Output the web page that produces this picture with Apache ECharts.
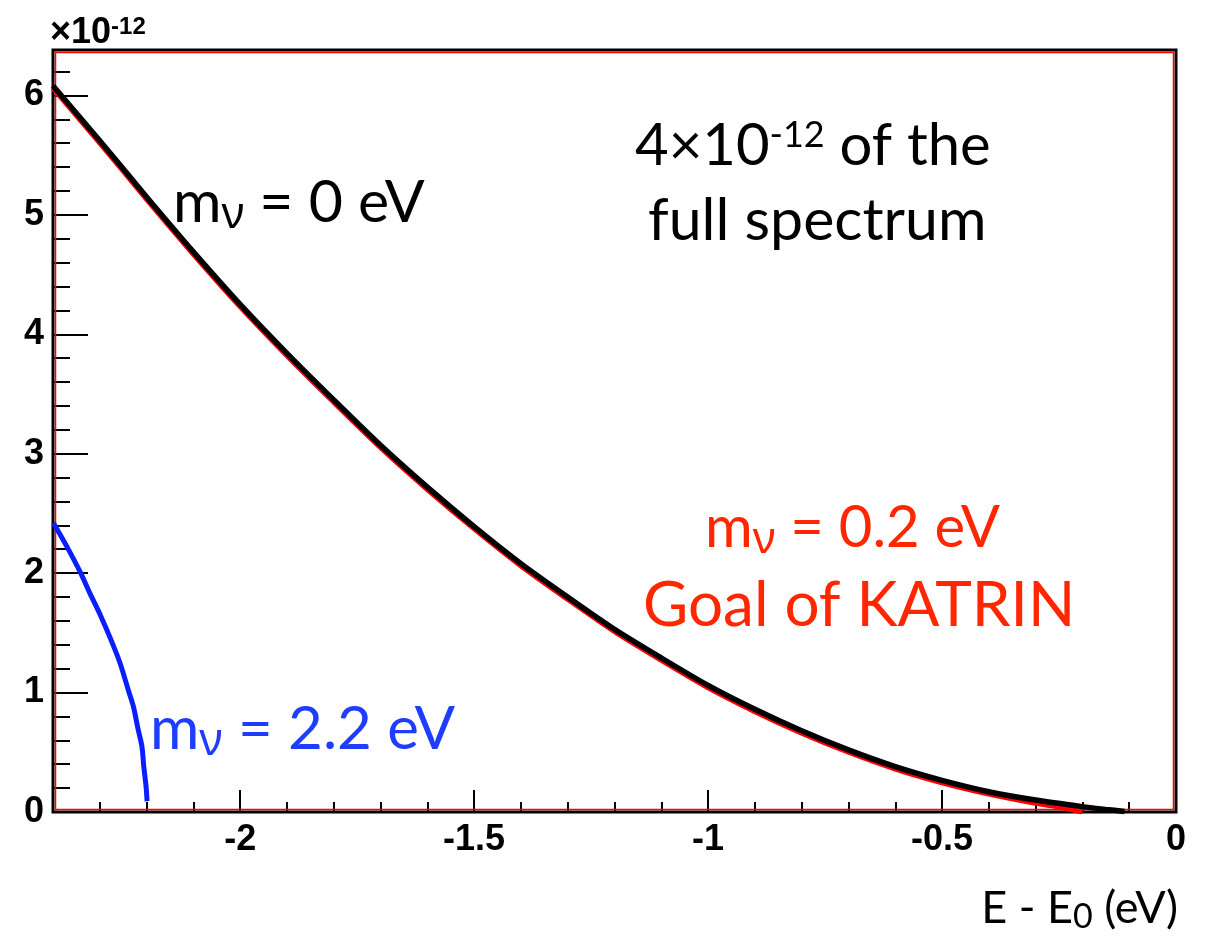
<!DOCTYPE html>
<html><head><meta charset="utf-8">
<script src="https://cdn.jsdelivr.net/npm/echarts@6/dist/echarts.min.js"></script>
<style>html,body{margin:0;padding:0;background:#fff}#c{width:1211px;height:937px}</style>
</head><body><div id="c"></div>
<script>
// ---- data (units: eV, and 1e-12) ----
const xTickLabels = ['-2.4','-2.3','-2.2','-2.1','-2','-1.9','-1.8','-1.7','-1.6','-1.5','-1.4','-1.3','-1.2','-1.1','-1','-0.9','-0.8','-0.7','-0.6','-0.5','-0.4','-0.3','-0.2','-0.1','0'];
const xMajorLabels = ['-2','-1.5','-1','-0.5','0'];
const yMajorLabels = [0,1,2,3,4,5,6];

const energyM0 = [-2.4,-2.3,-2.2,-2.1,-2.0,-1.9,-1.8,-1.7,-1.6,-1.5,-1.4,-1.3,-1.2,-1.1,-1.0,-0.9,-0.8,-0.7,-0.6,-0.5,-0.4,-0.3,-0.2,-0.15,-0.11];
const valueM0  = [6.08,5.62,5.15,4.69,4.25,3.84,3.45,3.07,2.72,2.39,2.08,1.80,1.53,1.29,1.06,0.86,0.68,0.52,0.38,0.265,0.17,0.10,0.045,0.022,0.005];

const energyM02 = [-2.4,-2.3,-2.2,-2.1,-2.0,-1.9,-1.8,-1.7,-1.6,-1.5,-1.4,-1.3,-1.2,-1.1,-1.0,-0.9,-0.8,-0.7,-0.6,-0.5,-0.4,-0.3,-0.25,-0.2];
const valueM02  = [6.06,5.60,5.13,4.67,4.23,3.82,3.43,3.05,2.70,2.37,2.06,1.78,1.51,1.27,1.04,0.84,0.66,0.50,0.36,0.245,0.15,0.072,0.04,0.0];

const energyM22 = [-2.399,-2.370,-2.342,-2.321,-2.299,-2.278,-2.257,-2.239,-2.228,-2.218,-2.210,-2.206,-2.201,-2.199];
const valueM22  = [2.42,2.22,2.01,1.83,1.65,1.46,1.25,1.02,0.88,0.69,0.55,0.38,0.21,0.09];

const xMin = -2.4, xMax = 0, yMin = 0, yMax = 6.38;

// ---- styles ----
const RED = '#ff2600', BLUE = '#1f3dff', BLACK = '#000';
const tickFont = {fontFamily: 'Liberation Sans', fontWeight: 'bold', fontSize: 36, color: '#000'};
const annFont = 'Lato';
const gridBox = {left: 53, right: 35, top: 50, bottom: 125};

function zip(a, b) { return a.map((v, i) => [v, b[i]]); }

function mnuText(rest, color, size) {
  const fs = Math.round(size * 0.75);
  const subLine = Math.round(0.887 * size + 7 + 0.112 * fs);
  return {
    text: '{m|m}{s|ν}{r|' + rest + '}',
    rich: {
      m: {fontFamily: annFont, fontSize: size, lineHeight: size, verticalAlign: 'top', fill: color},
      s: {fontFamily: 'Noto Sans', fontSize: fs, lineHeight: subLine, verticalAlign: 'bottom', fill: color},
      r: {fontFamily: annFont, fontSize: size, lineHeight: size, verticalAlign: 'top', fill: color}
    }
  };
}

const chart = echarts.init(document.getElementById('c'), null, {renderer: 'canvas'});

const option = {
  animation: false,
  backgroundColor: '#fff',
  grid: [
    Object.assign({show: true, borderColor: '#000', borderWidth: 3, backgroundColor: 'transparent'}, gridBox),
    Object.assign({show: false}, gridBox)
  ],
  xAxis: [
    {gridIndex: 0, type: 'value', min: xMin, max: xMax, interval: 0.1, position: 'bottom',
     axisLine: {show: false, onZero: false}, splitLine: {show: false},
     axisTick: {show: true, inside: true, length: 10, lineStyle: {color: '#000', width: 2}},
     axisLabel: {show: false}},
    {gridIndex: 1, type: 'category', data: xTickLabels, boundaryGap: false, position: 'bottom',
     axisLine: {show: false, onZero: false}, splitLine: {show: false},
     axisTick: {show: true, inside: true, length: 22, lineStyle: {color: '#000', width: 2},
       interval: (i, v) => xMajorLabels.indexOf(v) >= 0},
     axisLabel: Object.assign({show: true, margin: 10,
       interval: (i, v) => xMajorLabels.indexOf(v) >= 0}, tickFont)}
  ],
  yAxis: [
    {gridIndex: 0, type: 'value', min: yMin, max: yMax, interval: 0.2, position: 'left',
     axisLine: {show: false, onZero: false}, splitLine: {show: false},
     axisTick: {show: true, inside: true, length: 17, lineStyle: {color: '#000', width: 2}},
     axisLabel: {show: false}},
    {gridIndex: 1, type: 'value', min: yMin, max: yMax, interval: 1, position: 'left',
     axisLine: {show: false, onZero: false}, splitLine: {show: false},
     axisTick: {show: true, inside: true, length: 35, lineStyle: {color: '#000', width: 2}},
     axisLabel: Object.assign({show: true, margin: 9, showMaxLabel: false,
       formatter: v => (yMajorLabels.indexOf(v) >= 0 ? String(v) : '')}, tickFont)}
  ],
  series: [
    {name: 'm=0.2', type: 'line', xAxisIndex: 0, yAxisIndex: 0, data: zip(energyM02, valueM02),
     showSymbol: false, smooth: 0.25, lineStyle: {color: '#ff0000', width: 5}, z: 2},
    {name: 'm=0', type: 'line', xAxisIndex: 0, yAxisIndex: 0, data: zip(energyM0, valueM0),
     showSymbol: false, smooth: 0.25, lineStyle: {color: '#000', width: 5.5}, z: 3},
    {name: 'm=2.2', type: 'line', xAxisIndex: 0, yAxisIndex: 0, data: zip(energyM22, valueM22),
     showSymbol: false, smooth: 0.3, lineStyle: {color: '#0a1eff', width: 5}, z: 3}
  ]
};
chart.setOption(option);

// red inner frame following the grid rectangle
const p0 = chart.convertToPixel({xAxisIndex: 0, yAxisIndex: 0}, [xMin, yMax]);
const p1 = chart.convertToPixel({xAxisIndex: 0, yAxisIndex: 0}, [xMax, yMin]);

const m0 = mnuText(' = 0 eV', BLACK, 59);
const m02 = mnuText(' = 0.2 eV', RED, 58);
const m22 = mnuText(' = 2.2 eV', BLUE, 60);

chart.setOption({
  graphic: [
    {type: 'rect', silent: true, z: 1,
     shape: {x: p0[0] + 2.5, y: p0[1] + 2.5, width: p1[0] - p0[0] - 5, height: p1[1] - p0[1] - 5},
     style: {fill: 'none', stroke: '#ff0000', lineWidth: 1.5}},
    {type: 'text', x: 50, y: 15, z: 10, style: {
      text: '{a|×10}{b|-12}', verticalAlign: 'top',
      rich: {a: {fontFamily: 'Liberation Sans', fontWeight: 'bold', fontSize: 36, lineHeight: 38, verticalAlign: 'top', fill: '#000'},
             b: {fontFamily: 'Liberation Sans', fontWeight: 'bold', fontSize: 24, lineHeight: 22, verticalAlign: 'top', fill: '#000'}}}},
    {type: 'text', x: 635, y: 117, z: 10, style: {
      text: '{a|4×10}{b|-12}{a| of the}', verticalAlign: 'top',
      rich: {a: {fontFamily: annFont, fontSize: 58, lineHeight: 58, verticalAlign: 'top', fill: '#000'},
             b: {fontFamily: annFont, fontSize: 36, lineHeight: 40, verticalAlign: 'top', fill: '#000'}}}},
    {type: 'text', x: 648, y: 192, z: 10, style: {
      text: 'full spectrum', verticalAlign: 'top', fontFamily: annFont, fontSize: 59, lineHeight: 58, fill: '#000'}},
    {type: 'text', x: 173, y: 173, z: 10, style: Object.assign({verticalAlign: 'top'}, m0)},
    {type: 'text', x: 705, y: 499, z: 10, style: Object.assign({verticalAlign: 'top'}, m02)},
    {type: 'text', x: 643, y: 575, z: 10, style: {
      text: 'Goal of KATRIN', verticalAlign: 'top', fontFamily: annFont, fontSize: 62, lineHeight: 62, fill: RED}},
    {type: 'text', x: 150, y: 700, z: 10, style: Object.assign({verticalAlign: 'top'}, m22)},
    {type: 'text', x: 1178, y: 886, z: 10, style: {
      text: '{a|E - E}{b|0}{a| (eV)}', align: 'right', verticalAlign: 'top',
      rich: {a: {fontFamily: annFont, fontSize: 45, lineHeight: 45, verticalAlign: 'top', fill: '#000'},
             b: {fontFamily: annFont, fontSize: 34, lineHeight: 48, verticalAlign: 'bottom', fill: '#000'}}}}
  ]
});
</script>
</body></html>
